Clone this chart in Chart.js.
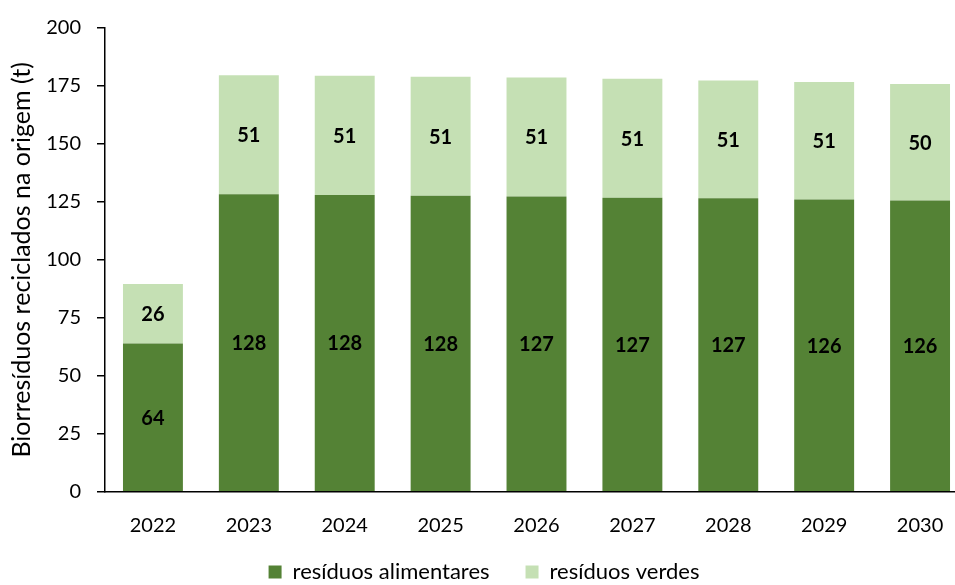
<!DOCTYPE html>
<html>
<head>
<meta charset="utf-8">
<script src="https://cdn.jsdelivr.net/npm/chart.js@4"></script>
<style>
  html, body { margin: 0; padding: 0; background: #fff; overflow: hidden; }
  #wrap { width: 968px; height: 585px; }
</style>
</head>
<body>
<div id="wrap"><canvas id="myChart"></canvas></div>
<script>
const ctx = document.getElementById("myChart");

// data
const years = ["2022", "2023", "2024", "2025", "2026", "2027", "2028", "2029", "2030"];
const alimentares = [63.9, 128.3, 128.0, 127.6, 127.3, 126.8, 126.6, 126.0, 125.6];
const verdes = [25.7, 51.3, 51.4, 51.4, 51.4, 51.3, 50.8, 50.7, 50.3];
const yTicks = [0, 25, 50, 75, 100, 125, 150, 175, 200];

const fontFamily = "Lato, 'Open Sans', sans-serif";

// labels in the middle of each segment
const barLabels = {
  id: "barLabels",
  afterDatasetsDraw(chart) {
    const c = chart.ctx;
    c.save();
    c.font = "bold 20px " + fontFamily;
    c.fillStyle = "#000";
    c.textAlign = "center";
    c.textBaseline = "middle";
    chart.data.datasets.forEach((ds, i) => {
      const meta = chart.getDatasetMeta(i);
      meta.data.forEach((bar, j) => {
        const mid = (bar.y + bar.base) / 2;
        c.fillText(Math.round(ds.data[j]), bar.x, mid + 1);
      });
    });
    c.restore();
  },
};

// legend keeps wide gaps between items but takes little height
const legendHeight = {
  id: "legendHeight",
  beforeLayout(chart) {
    const lg = chart.legend;
    if (lg && !lg._patched) {
      const fit = lg.fit;
      lg.fit = function () {
        fit.call(this);
        this.height = 33;
      };
      lg._patched = true;
    }
  },
  afterLayout(chart) {
    const lg = chart.legend;
    if (lg) {
      lg.top = 525;
      lg.bottom = 585;
    }
  },
};

const myChart = new Chart(ctx, {
  type: "bar",
  data: {
    labels: years,
    datasets: [
      {
        label: "resíduos alimentares",
        data: alimentares,
        backgroundColor: "#548235",
        barPercentage: 0.625,
        categoryPercentage: 1,
      },
      {
        label: "resíduos verdes",
        data: verdes,
        backgroundColor: "#C5E0B4",
        barPercentage: 0.625,
        categoryPercentage: 1,
      },
    ],
  },
  options: {
    responsive: true,
    maintainAspectRatio: false,
    animation: false,
    layout: { padding: { top: 25, right: 0, left: 0, bottom: 0 } },
    scales: {
      x: {
        stacked: true,
        grid: { display: false, drawTicks: false, tickLength: 0 },
        border: { color: "#000", width: 1.5 },
        ticks: { color: "#000", font: { family: fontFamily, size: 20 }, padding: 22 },
        afterFit: (scale) => { scale.height = 60.3; },
      },
      y: {
        stacked: true,
        min: 0,
        max: 200,
        afterBuildTicks: (scale) => { scale.ticks = yTicks.map((v) => ({ value: v })); },
        grid: { drawOnChartArea: false, drawTicks: true, tickLength: 8, color: "#000", lineWidth: 1.5 },
        border: { color: "#000", width: 1.5 },
        ticks: { color: "#000", font: { family: fontFamily, size: 20 }, padding: 16 },
        title: {
          display: true,
          text: "Biorresíduos reciclados na origem (t)",
          color: "#000",
          font: { family: fontFamily, size: 25 },
          padding: { top: 7, bottom: 4 },
        },
        afterFit: (scale) => { scale.width = 105; },
      },
    },
    plugins: {
      legend: {
        position: "bottom",
        labels: {
          color: "#000",
          font: { family: fontFamily, size: 22 },
          boxWidth: 13,
          boxHeight: 13,
          padding: 36,
        },
      },
      tooltip: { enabled: false },
    },
  },
  plugins: [barLabels, legendHeight],
});
</script>
</body>
</html>
